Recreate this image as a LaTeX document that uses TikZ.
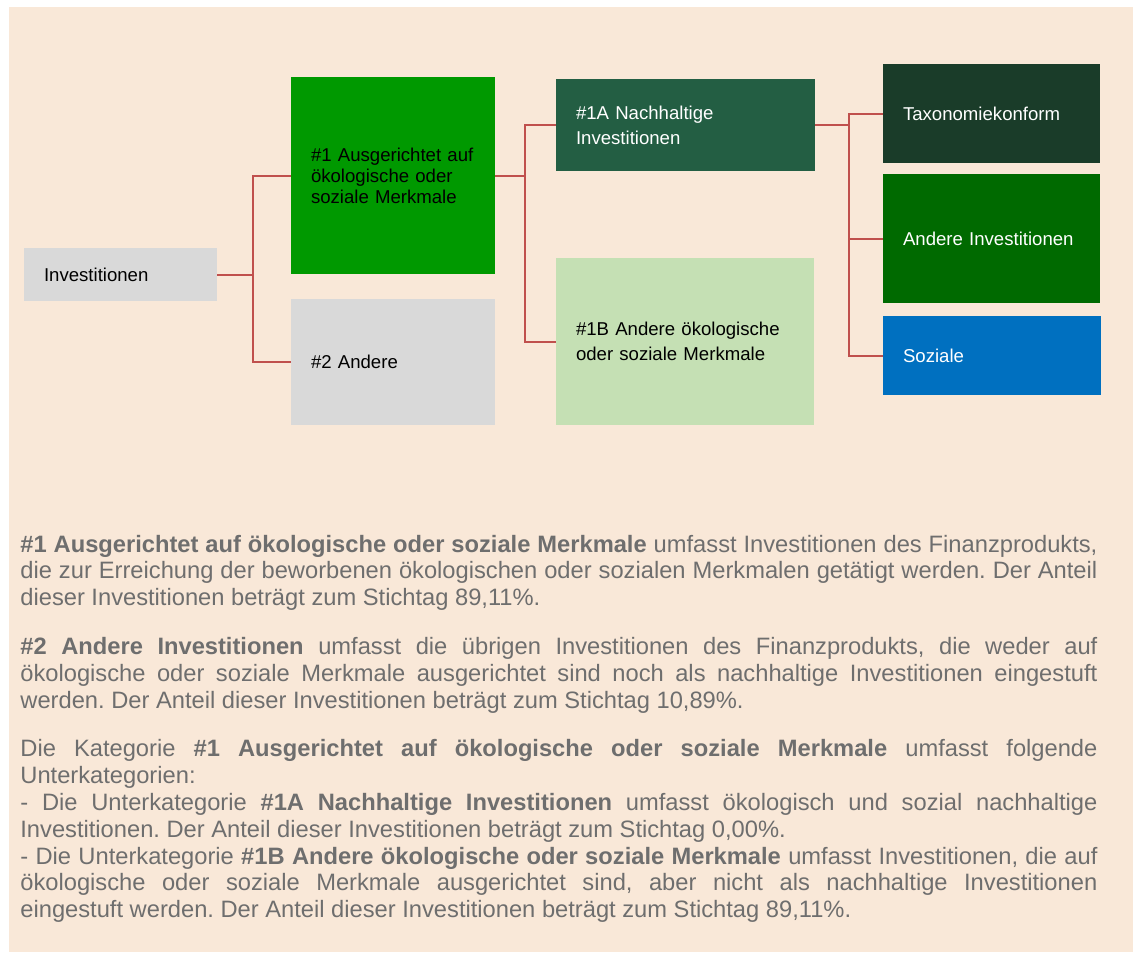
\documentclass[tikz,border=0pt]{standalone}
\usepackage{fontspec}
\setmainfont{Liberation Sans}
\usepackage{xcolor}
\usetikzlibrary{
positioning,
calc
}
\definecolor{panelbg}{HTML}{F9E8D8}
\definecolor{linkred}{HTML}{C0504D}
\definecolor{boxgray}{HTML}{D9D9D9}
\definecolor{alignedgreen}{HTML}{009900}
\definecolor{sustgreen}{HTML}{235E43}
\definecolor{otherlight}{HTML}{C5E0B4}
\definecolor{taxdark}{HTML}{1A3C29}
\definecolor{otherinv}{HTML}{006A00}
\definecolor{socialblue}{HTML}{0070C0}
\definecolor{notegray}{HTML}{6E6E6E}

\begin{document}
\frenchspacing
\begin{tikzpicture}[
  x=0.5pt, y=-0.5pt,
  box/.style 2 args={
    minimum width=#1, text width=#1-20pt, minimum height=#2,
    inner xsep=10pt, inner ysep=0pt, align=left,
    font=\fontsize{9.3pt}{12.5pt}\selectfont
  },
  link/.style={line width=1pt, linkred},
  note/.style={
    text width=538.5pt, align=justify, inner sep=0pt,
    text=notegray, font=\fontsize{11.85pt}{13.4pt}\selectfont
  }
]

%% ============================================================
%%  PANEL
%% ============================================================
\fill[white] (0,0) rectangle (1136,954);
\fill[panelbg] (9,7) rectangle (1133,952);

%% ============================================================
%%  TREE
%% ============================================================
\node[box={96.5pt}{26.5pt}, fill=boxgray] (inv) at (120.5,274.5)
  {Investitionen};

%% Level 1
\node[box={102pt}{98.5pt}, fill=alignedgreen,
      font=\fontsize{9.3pt}{10.5pt}\selectfont] (a1) at (393,175.5)
  {\#1 Ausgerichtet auf\\ökologische oder\\soziale Merkmale};
\node[box={102pt}{63pt}, fill=boxgray] (a2) at (393,362)
  {\#2 Andere};

%% Level 2
\node[box={129.5pt}{46pt}, fill=sustgreen, text=white] (b1) at (685.5,125)
  {\#1A Nachhaltige\\Investitionen};
\node[box={129pt}{83.5pt}, fill=otherlight] (b2) at (685,341.5)
  {\#1B Andere ökologische\\oder soziale Merkmale};

%% Level 3
\node[box={108.5pt}{49.5pt}, fill=taxdark, text=white] (c1) at (991.5,113.5)
  {Taxonomiekonform};
\node[box={108.5pt}{64.5pt}, fill=otherinv, text=white] (c2) at (991.5,238.5)
  {Andere Investitionen};
\node[box={109pt}{39.5pt}, fill=socialblue, text=white] (c3) at (992,355.5)
  {Soziale};

%% Connectors
\draw[link] (inv.east) -- ++(36,0) coordinate (j1);
\draw[link] (j1) |- (a1.west);
\draw[link] (j1) |- (a2.west);

\draw[link] (a1.east) -- ++(30,0) coordinate (j2);
\draw[link] (j2) |- (b1.west);
\draw[link] (j2) |- (b2.west);

\draw[link, line width=1.4pt] (b1.east) -- ++(34,0) coordinate (j3);
\draw[link] (j3) |- (c1.west);
\draw[link] (j3) |- (c2.west);
\draw[link] (j3) |- (c3.west);

%% ============================================================
%%  EXPLANATION
%% ============================================================
\node[note, anchor=base west] (txt) at (20,552)
  {\textbf{\#1 Ausgerichtet auf ökologische oder soziale Merkmale} umfasst Investitionen des Finanzprodukts,\linebreak
   die zur Erreichung der beworbenen ökologischen oder sozialen Merkmalen getätigt werden. Der Anteil\linebreak
   dieser Investitionen beträgt zum Stichtag 89,11\%.\par\vspace{11pt}
   \textbf{\#2 Andere Investitionen} umfasst die übrigen Investitionen des Finanzprodukts, die weder auf\linebreak
   ökologische oder soziale Merkmale ausgerichtet sind noch als nachhaltige Investitionen eingestuft\linebreak
   werden. Der Anteil dieser Investitionen beträgt zum Stichtag 10,89\%.\par\vspace{11pt}
   Die Kategorie \textbf{\#1 Ausgerichtet auf ökologische oder soziale Merkmale} umfasst folgende\linebreak
   Unterkategorien:\\
   - Die Unterkategorie \textbf{\#1A Nachhaltige Investitionen} umfasst ökologisch und sozial nachhaltige\linebreak
   Investitionen. Der Anteil dieser Investitionen beträgt zum Stichtag 0,00\%.\\
   - Die Unterkategorie \textbf{\#1B Andere ökologische oder soziale Merkmale} umfasst Investitionen, die auf\linebreak
   ökologische oder soziale Merkmale ausgerichtet sind, aber nicht als nachhaltige Investitionen\linebreak
   eingestuft werden. Der Anteil dieser Investitionen beträgt zum Stichtag 89,11\%.};

\end{tikzpicture}
\end{document}
